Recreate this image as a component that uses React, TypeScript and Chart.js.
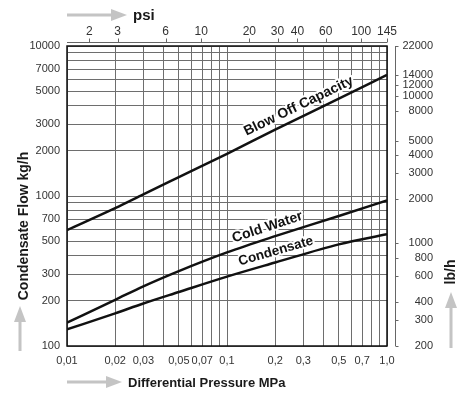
import React, { useEffect, useRef } from "react";
import { Chart, registerables } from "chart.js";

Chart.register(...registerables);

// ---- data ----
const pressureMPa = [0.01, 0.02, 0.03, 0.05, 0.1, 0.2, 0.5, 1.0];
const blowOffCapacity = [593, 830, 1025, 1335, 1910, 2770, 4450, 6410];
const coldWater = [143, 203, 250, 316, 421, 540, 736, 935];
const condensate = [129, 165, 192, 229, 290, 360, 476, 556];

const seriesNames = ["Blow Off Capacity", "Cold Water", "Condensate"];

const mpaTickLabels = [0.01, 0.02, 0.03, 0.05, 0.07, 0.1, 0.2, 0.3, 0.5, 0.7, 1.0];
const kgTickLabels = [100, 200, 300, 500, 700, 1000, 2000, 3000, 5000, 7000, 10000];
const psiTickLabels = [2, 3, 6, 10, 20, 30, 40, 60, 100, 145];
const lbTickLabels = [200, 300, 400, 600, 800, 1000, 2000, 3000, 4000, 5000, 8000, 10000, 12000, 14000, 22000];

const TICK_FONT = '"Liberation Sans", Arial, sans-serif';
const BOLD_FONT = '"Liberation Sans", Arial, sans-serif';

function logGrid(min: number, max: number): number[] {
  const out: number[] = [];
  for (let d = Math.floor(Math.log10(min)); d <= Math.ceil(Math.log10(max)); d++) {
    for (let m = 1; m < 10; m++) {
      const v = +(m * Math.pow(10, d)).toPrecision(6);
      if (v >= min * 0.999 && v <= max * 1.001) out.push(v);
    }
  }
  return out;
}

const hasValue = (list: number[], v: number) => list.some((t) => Math.abs(t - v) / t < 1e-6);

function fmtMPa(v: number) {
  if (Math.abs(v - 1) < 1e-9) return "1,0";
  return String(+v.toPrecision(6)).replace(".", ",");
}

function interpLogLog(xs: number[], ys: number[], x: number) {
  const lx = Math.log10(x);
  for (let i = 0; i < xs.length - 1; i++) {
    const a = Math.log10(xs[i]);
    const b = Math.log10(xs[i + 1]);
    if (lx >= a && lx <= b) {
      const t = (lx - a) / (b - a);
      return Math.pow(10, Math.log10(ys[i]) + t * (Math.log10(ys[i + 1]) - Math.log10(ys[i])));
    }
  }
  return ys[ys.length - 1];
}

function drawArrow(ctx: CanvasRenderingContext2D, x1: number, y1: number, x2: number, y2: number) {
  const ang = Math.atan2(y2 - y1, x2 - x1);
  const len = Math.hypot(x2 - x1, y2 - y1);
  ctx.save();
  ctx.translate(x1, y1);
  ctx.rotate(ang);
  ctx.fillStyle = "#c4c4c4";
  ctx.fillRect(0, -1.5, len - 14, 3);
  ctx.beginPath();
  ctx.moveTo(len, 0);
  ctx.lineTo(len - 16, -6);
  ctx.lineTo(len - 16, 6);
  ctx.closePath();
  ctx.fill();
  ctx.restore();
}

const decorPlugin = {
  id: "decor",
  beforeDraw(chart: any) {
    const { ctx, width, height } = chart;
    ctx.save();
    ctx.fillStyle = "#ffffff";
    ctx.fillRect(0, 0, width, height);
    ctx.restore();
  },
  afterDatasetsDraw(chart: any) {
    const { ctx, chartArea: a, scales } = chart;
    ctx.save();
    // plot frame
    ctx.strokeStyle = "#111";
    ctx.lineWidth = 1.5;
    ctx.strokeRect(a.left, a.top, a.right - a.left, a.bottom - a.top);

    // psi axis line with ticks
    const x2 = scales.x2;
    const ty = a.top - 3.5;
    ctx.strokeStyle = "#666";
    ctx.lineWidth = 1;
    ctx.beginPath();
    ctx.moveTo(a.left, ty);
    ctx.lineTo(a.right, ty);
    psiTickLabels.forEach((v) => {
      const px = Math.round(x2.getPixelForValue(v)) + 0.5;
      ctx.moveTo(px, ty);
      ctx.lineTo(px, ty - 4);
    });
    ctx.stroke();

    // lb/h bracket axis
    const y2 = scales.y2;
    const bx = a.right + 8.5;
    ctx.beginPath();
    ctx.moveTo(bx, a.top);
    ctx.lineTo(bx, a.bottom);
    lbTickLabels.forEach((v) => {
      const py = Math.round(y2.getPixelForValue(v)) + 0.5;
      ctx.moveTo(bx, py);
      ctx.lineTo(bx + 3, py);
    });
    ctx.stroke();

    // curve labels
    const labelPos = [0.3, 0.188, 0.211];
    const sx = scales.x;
    const sy = scales.y;
    const seriesVals = [blowOffCapacity, coldWater, condensate];
    seriesNames.forEach((name, i) => {
      const p = labelPos[i];
      const ys = seriesVals[i];
      const px = sx.getPixelForValue(p);
      const py = sy.getPixelForValue(interpLogLog(pressureMPa, ys, p));
      const pa = p / 1.15;
      const pb = p * 1.15;
      const ax = sx.getPixelForValue(pa);
      const ay = sy.getPixelForValue(interpLogLog(pressureMPa, ys, pa));
      const bx2 = sx.getPixelForValue(pb);
      const by = sy.getPixelForValue(interpLogLog(pressureMPa, ys, pb));
      const ang = Math.atan2(by - ay, bx2 - ax);
      ctx.save();
      ctx.translate(px, py);
      ctx.rotate(ang);
      ctx.font = `bold ${i === 2 ? 13.5 : 14}px ${BOLD_FONT}`;
      ctx.textAlign = "center";
      ctx.textBaseline = "alphabetic";
      ctx.lineJoin = "round";
      ctx.strokeStyle = "#ffffff";
      ctx.lineWidth = 4;
      ctx.strokeText(name, 0, -7);
      ctx.fillStyle = "#111";
      ctx.fillText(name, 0, -7);
      ctx.restore();
    });

    // titles
    ctx.fillStyle = "#1a1a1a";
    ctx.textBaseline = "middle";
    ctx.textAlign = "left";
    ctx.font = `bold 15px ${BOLD_FONT}`;
    ctx.fillText("psi", 133, 16);
    drawArrow(ctx, 67, 15, 127, 15);

    ctx.font = `bold 13px ${BOLD_FONT}`;
    ctx.fillText("Differential Pressure MPa", 128, 383);
    drawArrow(ctx, 67, 382, 122, 382);

    ctx.save();
    ctx.translate(24, 226);
    ctx.rotate(-Math.PI / 2);
    ctx.textAlign = "center";
    ctx.font = `bold 14px ${BOLD_FONT}`;
    ctx.fillText("Condensate Flow kg/h", 0, 0);
    ctx.restore();
    drawArrow(ctx, 20, 351, 20, 306);

    ctx.save();
    ctx.translate(451, 272);
    ctx.rotate(-Math.PI / 2);
    ctx.textAlign = "center";
    ctx.font = `bold 14px ${BOLD_FONT}`;
    ctx.fillText("lb/h", 0, 0);
    ctx.restore();
    drawArrow(ctx, 451, 348, 451, 292);

    ctx.restore();
  },
};

export default function App() {
  const canvasRef = useRef<HTMLCanvasElement | null>(null);

  useEffect(() => {
    if (!canvasRef.current) return;
    const mk = (vals: number[], name: string) => ({
      label: name,
      data: pressureMPa.map((p, i) => ({ x: p, y: vals[i] })),
      borderColor: "#111",
      backgroundColor: "#111",
      borderWidth: 2.5,
      pointRadius: 0,
      cubicInterpolationMode: "monotone" as const,
      xAxisID: "x",
      yAxisID: "y",
    });
    const tickFont = { family: TICK_FONT, size: 11 };
    const gridColor = "#6e6e6e";
    const chart = new Chart(canvasRef.current, {
      type: "line",
      data: {
        datasets: [
          mk(blowOffCapacity, seriesNames[0]),
          mk(coldWater, seriesNames[1]),
          mk(condensate, seriesNames[2]),
        ],
      },
      options: {
        animation: false,
        responsive: true,
        maintainAspectRatio: false,
        layout: { padding: { left: 0, top: 0, bottom: 0, right: 41 } },
        plugins: { legend: { display: false }, tooltip: { enabled: false } },
        scales: {
          x: {
            type: "logarithmic",
            position: "bottom",
            min: 0.01,
            max: 1,
            afterBuildTicks: (s: any) => {
              s.ticks = logGrid(0.01, 1).map((v) => ({ value: v }));
            },
            afterFit: (s: any) => {
              s.height = 50;
            },
            ticks: {
              autoSkip: false,
              maxRotation: 0,
              minRotation: 0,
              padding: 8,
              color: "#333",
              font: tickFont,
              callback: (v: any) => (hasValue(mpaTickLabels, Number(v)) ? fmtMPa(Number(v)) : ""),
            },
            grid: { color: gridColor, lineWidth: 1, drawTicks: false },
            border: { display: false },
          },
          y: {
            type: "logarithmic",
            position: "left",
            min: 100,
            max: 10000,
            afterBuildTicks: (s: any) => {
              s.ticks = logGrid(100, 10000).map((v) => ({ value: v }));
            },
            afterFit: (s: any) => {
              s.width = 67;
            },
            ticks: {
              autoSkip: false,
              padding: 7,
              color: "#333",
              font: tickFont,
              callback: (v: any) => (hasValue(kgTickLabels, Number(v)) ? String(Number(v)) : ""),
            },
            grid: { color: gridColor, lineWidth: 1, drawTicks: false },
            border: { display: false },
          },
          x2: {
            type: "logarithmic",
            position: "top",
            min: 1.4504,
            max: 145.04,
            afterBuildTicks: (s: any) => {
              s.ticks = psiTickLabels.map((v) => ({ value: v }));
            },
            afterFit: (s: any) => {
              s.height = 46;
            },
            ticks: {
              autoSkip: false,
              maxRotation: 0,
              minRotation: 0,
              padding: 7,
              color: "#333",
              font: { family: TICK_FONT, size: 12 },
              callback: (v: any) => String(Number(v)),
            },
            grid: { display: false, drawTicks: false },
            border: { display: false },
          },
          y2: {
            type: "logarithmic",
            position: "right",
            min: 200,
            max: 22000,
            afterBuildTicks: (s: any) => {
              s.ticks = lbTickLabels.map((v) => ({ value: v }));
            },
            afterFit: (s: any) => {
              s.width = 46;
            },
            ticks: {
              autoSkip: false,
              crossAlign: "far",
              padding: 14,
              color: "#333",
              font: tickFont,
              callback: (v: any) => String(Number(v)),
            },
            grid: { display: false, drawTicks: false },
            border: { display: false },
          },
        },
      } as any,
      plugins: [decorPlugin],
    });
    return () => chart.destroy();
  }, []);

  return (
    <div style={{ position: "fixed", left: 0, top: 0, width: 474, height: 396, background: "#fff" }}>
      <canvas ref={canvasRef} />
    </div>
  );
}
